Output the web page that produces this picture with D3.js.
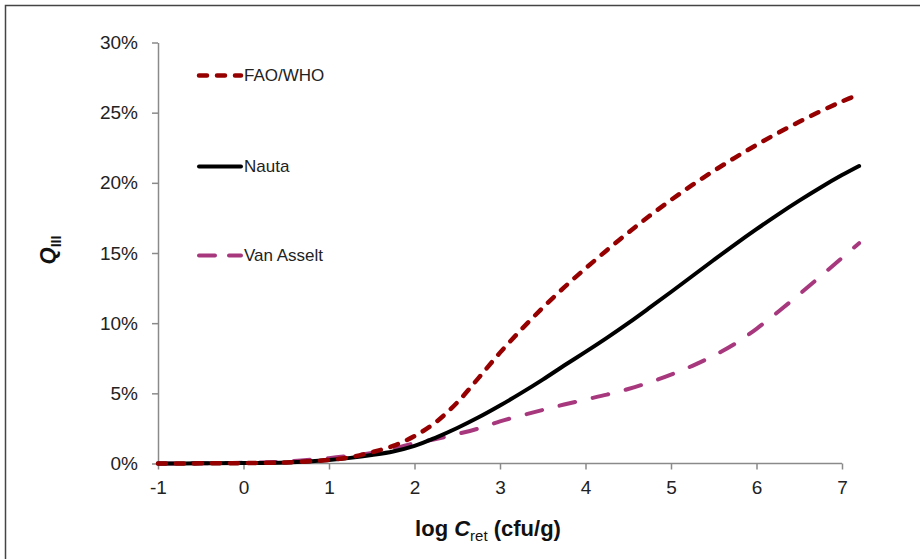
<!DOCTYPE html>
<head>
    <script src="https://d3js.org/d3.v7.min.js"></script>
</head>
<style>
body {
    margin: 0;
    background: #fff;
    font-family: "Liberation Sans", Arial, Helvetica, sans-serif;
}
.tick text {
    font-size: 19px;
    fill: #222;
}
.legend text {
    font-size: 17px;
    fill: #222;
}
</style>
<body>
<svg></svg>
</body>
<script>

    // Values (Q_III in %)
    var logC = [-1, -0.5, 0, 0.5, 1, 1.25, 1.5, 1.75, 2, 2.25, 2.5, 2.75, 3, 3.25, 3.5, 3.75, 4,
        4.25, 4.5, 4.75, 5, 5.25, 5.5, 5.75, 6, 6.25, 6.5, 6.75, 7, 7.2];
    var faoWho = [0, 0.01, 0.03, 0.08, 0.25, 0.45, 0.8, 1.25, 1.95, 2.95, 4.35, 6.1, 7.9, 9.55, 11.1, 12.55, 13.9,
        15.2, 16.45, 17.65, 18.78, 19.85, 20.85, 21.8, 22.7, 23.55, 24.35, 25.1, 25.8, 26.3];
    var nauta = [0, 0.01, 0.03, 0.08, 0.25, 0.4, 0.6, 0.85, 1.25, 1.85, 2.53, 3.29, 4.13, 5.03, 5.98, 6.98, 7.95,
        8.95, 10.0, 11.1, 12.22, 13.36, 14.5, 15.62, 16.7, 17.74, 18.73, 19.67, 20.55, 21.2];
    var vanAsselt = [0, 0.02, 0.05, 0.15, 0.38, 0.55, 0.75, 1.05, 1.45, 1.75, 2.1, 2.5, 3.0, 3.42, 3.82, 4.2, 4.56,
        4.91, 5.31, 5.78, 6.33, 6.96, 7.69, 8.54, 9.6, 10.8, 12.05, 13.35, 14.65, 15.7];

    var xTicks = [-1, 0, 1, 2, 3, 4, 5, 6, 7];
    var yTicks = [0, 5, 10, 15, 20, 25, 30];

    var seriesNames = ["FAO/WHO", "Nauta", "Van Asselt"];
    var seriesData = [faoWho, nauta, vanAsselt];
    var colors = ["#960000", "#000000", "#a8387e"];
    var dashes = ["8,10", null, "16,18"];

    var width = 920;
    var height = 559;

    var svg = d3.select('svg')
        .attr('width', width)
        .attr('height', height);

    // outer frame (top and left edges visible)
    svg.append('path')
        .attr('d', 'M5.5,' + height + 'V5.5H' + width)
        .attr('fill', 'none')
        .attr('stroke', '#444')
        .attr('stroke-width', 1.5);

    var x = d3.scaleLinear().domain([-1, 7]).range([158, 842]);
    var y = d3.scaleLinear().domain([0, 30]).range([463.5, 42.5]);

    var xAxis = svg.append('g')
        .attr('transform', 'translate(0,' + y(0) + ')')
        .call(d3.axisBottom(x).tickValues(xTicks).tickSize(6).tickPadding(11).tickSizeOuter(0)
            .tickFormat(function (d) { return d; }));

    var yAxis = svg.append('g')
        .attr('transform', 'translate(' + x(-1) + ',0)')
        .call(d3.axisLeft(y).tickValues(yTicks).tickSize(6).tickPadding(14).tickSizeOuter(0)
            .tickFormat(function (d) { return d + "%"; }));

    svg.selectAll('.domain, .tick line').attr('stroke', '#8a8a8a').attr('stroke-width', 1.5);
    svg.selectAll('.tick text').attr('font-family', null);
    xAxis.selectAll('.domain').remove();
    xAxis.append('line')
        .attr('x1', x(-1)).attr('x2', x(7))
        .attr('stroke', '#8a8a8a').attr('stroke-width', 1.5);
    xAxis.lower();

    var line = d3.line()
        .x(function (d) { return x(d[0]); })
        .y(function (d) { return y(d[1]); })
        .curve(d3.curveCatmullRom.alpha(0.5));

    // draw the series: van asselt first, fao/who on top
    [2, 1, 0].forEach(function (i) {
        var pts = logC.map(function (c, j) { return [c, seriesData[i][j]]; });
        svg.append('path')
            .datum(pts)
            .attr('d', line)
            .attr('fill', 'none')
            .attr('stroke', colors[i])
            .attr('stroke-width', i === 0 ? 4.5 : 4)
            .attr('stroke-linecap', 'round')
            .attr('stroke-dasharray', dashes[i]);
    });

    // legend
    var legendY = [75.5, 166.5, 255.5];
    var legend = svg.append('g').attr('class', 'legend');
    seriesNames.forEach(function (name, i) {
        legend.append('line')
            .attr('x1', 199).attr('x2', 241)
            .attr('y1', legendY[i]).attr('y2', legendY[i])
            .attr('stroke', colors[i])
            .attr('stroke-width', i === 0 ? 4.5 : 4)
            .attr('stroke-linecap', 'round')
            .attr('stroke-dasharray', i === 2 ? "16,14" : dashes[i]);
        legend.append('text')
            .attr('x', 244)
            .attr('y', legendY[i])
            .attr('dy', '0.35em')
            .text(name);
    });

    // x axis title
    var xt = svg.append('text')
        .attr('x', 488)
        .attr('y', 536)
        .attr('text-anchor', 'middle')
        .attr('font-size', '22px')
        .attr('font-weight', 'bold')
        .attr('fill', '#111');
    xt.append('tspan').text('log ');
    xt.append('tspan').attr('font-style', 'italic').text('C');
    xt.append('tspan').attr('font-size', '15px').attr('font-weight', 'normal').attr('dy', 5).text('ret');
    xt.append('tspan').attr('dy', -5).text(' (cfu/g)');

    // y axis title
    var yt = svg.append('text')
        .attr('transform', 'translate(55,250)rotate(-90)')
        .attr('text-anchor', 'middle')
        .attr('font-size', '22px')
        .attr('font-weight', 'bold')
        .attr('fill', '#111');
    yt.append('tspan').attr('font-style', 'italic').text('Q');
    yt.append('tspan').attr('font-size', '14px').attr('dy', 6).text('III');

</script>
